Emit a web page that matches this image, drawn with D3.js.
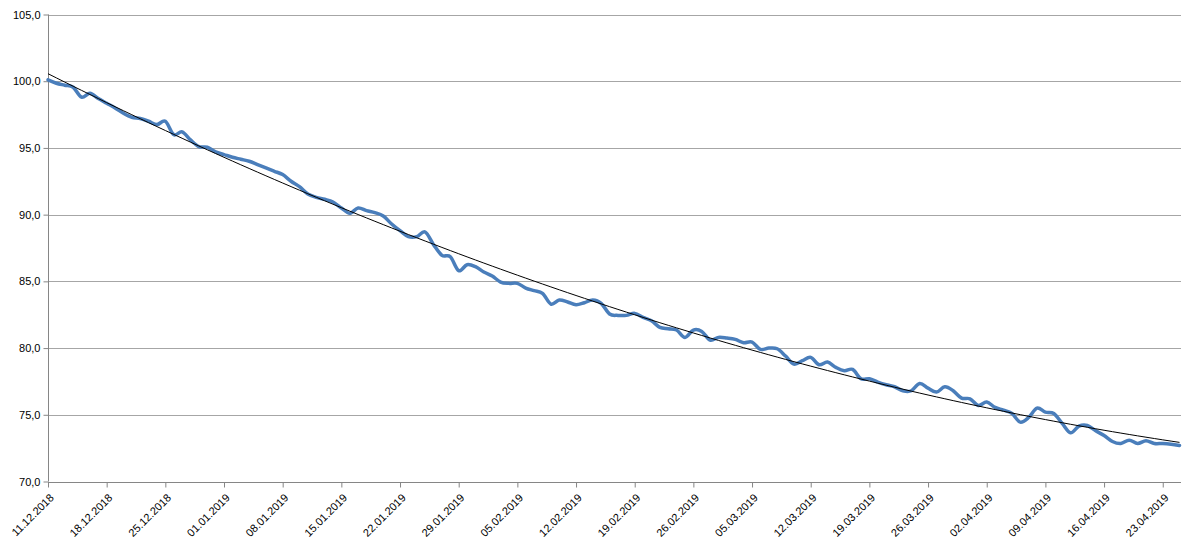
<!DOCTYPE html>
<html><head><meta charset="utf-8">
<script src="https://cdn.jsdelivr.net/npm/d3@7"></script>
<style>body{margin:0;background:#fff}svg{display:block}text{font-family:"Liberation Sans",Arial,sans-serif;font-size:11px;fill:#000}</style>
</head><body><svg id="c" width="1200" height="547"></svg>
<script>
const startDate = "2018-12-11";
const values = [
100.1,99.85,99.7,99.55,98.8,99.1,98.7,98.35,98.0,97.6,
97.3,97.2,97.0,96.75,97.0,96.0,96.2,95.6,95.1,95.05,
94.7,94.5,94.3,94.15,94.0,93.75,93.5,93.25,93.0,92.5,
92.1,91.55,91.3,91.15,90.95,90.5,90.1,90.5,90.3,90.15,
89.9,89.3,88.8,88.35,88.35,88.7,87.75,86.95,86.85,85.8,
86.25,86.1,85.7,85.4,84.95,84.85,84.85,84.5,84.3,84.1,
83.3,83.6,83.45,83.25,83.4,83.6,83.35,82.55,82.45,82.45,
82.6,82.3,82.05,81.55,81.45,81.35,80.8,81.35,81.25,80.6,
80.8,80.75,80.65,80.4,80.45,79.9,80.0,79.95,79.4,78.8,
79.05,79.3,78.75,78.95,78.55,78.3,78.4,77.7,77.7,77.45,
77.25,77.1,76.8,76.8,77.35,77.0,76.7,77.1,76.8,76.25,
76.2,75.7,75.95,75.55,75.35,75.1,74.45,74.8,75.5,75.2,
75.1,74.35,73.65,74.15,74.2,73.8,73.45,73.0,72.85,73.1,
72.85,73.05,72.85,72.85,72.8,72.7];
const yTicks = [70,75,80,85,90,95,100,105];
const tickEvery = 7;

const svg = d3.select("#c");
const x = d3.scaleLinear().domain([0, values.length-1]).range([48, 1179.5]);
const y = d3.scaleLinear().domain([70,105]).range([481.5, 14.5]);
const fmtDate = d3.timeFormat("%d.%m.%Y");
const parse = d3.timeParse("%Y-%m-%d");
const d0 = parse(startDate);
const dates = values.map((v,i)=>d3.timeDay.offset(d0,i));

// gridlines
svg.append("g").selectAll("line").data(yTicks.filter(t=>t>70)).join("line")
  .attr("x1",48).attr("x2",1181).attr("y1",d=>Math.round(y(d))+0.5).attr("y2",d=>Math.round(y(d))+0.5)
  .attr("stroke","#a6a6a6").attr("stroke-width",1);

// y axis
const ya = svg.append("g").attr("transform","translate(48.5,0)")
  .call(d3.axisLeft(y).tickValues(yTicks).tickSize(5).tickPadding(3).tickFormat(d=>d3.format(".1f")(d).replace(".",",")));
ya.select(".domain").attr("stroke","#868686").attr("d","M0,"+y(105)+"V"+y(70));
ya.selectAll(".tick line").attr("stroke","#868686");
ya.selectAll(".tick text").style("font-size","11px").attr("fill","#000");

// x axis
const tickIdx = d3.range(0, values.length, tickEvery);
const xa = svg.append("g").attr("transform","translate(0,"+(Math.round(y(70))+0.5)+")")
  .call(d3.axisBottom(x).tickValues(tickIdx).tickSize(5).tickFormat(i=>fmtDate(dates[i])));
xa.select(".domain").attr("stroke","#868686").attr("d","M48,0H1181");
xa.selectAll(".tick line").attr("stroke","#868686");
xa.selectAll(".tick text").attr("text-anchor","end").attr("dy",0).attr("y",0)
  .attr("transform","translate(6,16) rotate(-45)").style("font-size","11px").attr("fill","#000");

// polynomial trend (least squares, order 2)
function polyfit(xs, ys){
  let S=[0,0,0,0,0], T=[0,0,0];
  xs.forEach((xv,i)=>{let p=1;for(let k=0;k<5;k++){S[k]+=p;if(k<3)T[k]+=p*ys[i];p*=xv;}});
  const A=[[S[0],S[1],S[2],T[0]],[S[1],S[2],S[3],T[1]],[S[2],S[3],S[4],T[2]]];
  for(let i=0;i<3;i++){for(let j=i+1;j<3;j++){const f=A[j][i]/A[i][i];for(let k=i;k<4;k++)A[j][k]-=f*A[i][k];}}
  const c=[0,0,0];for(let i=2;i>=0;i--){let s=A[i][3];for(let k=i+1;k<3;k++)s-=A[i][k]*c[k];c[i]=s/A[i][i];}
  return c;
}
const idx = values.map((v,i)=>i);
const c = polyfit(idx, values);

// data line
svg.append("path").datum(values)
  .attr("d", d3.line().x((d,i)=>x(i)).y(d=>y(d)).curve(d3.curveCatmullRom.alpha(0)))
  .attr("fill","none").attr("stroke","#4a7ebb").attr("stroke-width",3.5).attr("stroke-linejoin","round").attr("stroke-linecap","round");

// trend line
const trendPts = d3.range(0, values.length-1+0.01, 1).map(t=>[t, c[0]+c[1]*t+c[2]*t*t]);
svg.append("path").datum(trendPts)
  .attr("d", d3.line().x(d=>x(d[0])).y(d=>y(d[1])))
  .attr("fill","none").attr("stroke","#000").attr("stroke-width",1);
</script></body></html>
